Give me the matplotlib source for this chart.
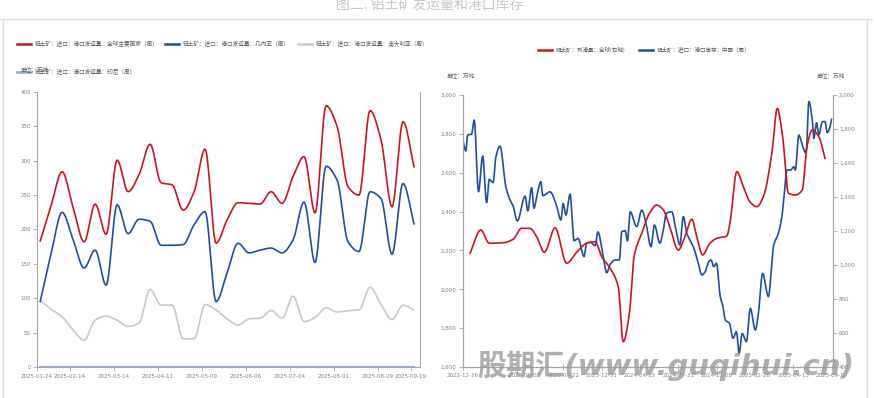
import numpy as np
import pandas as pd
import matplotlib
matplotlib.use('Agg')
import matplotlib.pyplot as plt
import matplotlib.dates as mdates
from matplotlib.lines import Line2D
from matplotlib.ticker import FuncFormatter
from matplotlib import font_manager

plt.rcParams['font.family'] = ['Noto Sans CJK SC', 'DejaVu Sans']

# ~~~~~ left panel: weekly port shipments (万吨) ~~~~~
weeks = pd.date_range('2025-01-26', periods=35, freq='7D')
global_ship = [183, 235, 284, 232, 182, 237, 193, 301, 255, 280, 324, 268, 265, 228, 255, 317, 180,
               214, 239, 238, 237, 255, 238, 277, 306, 224, 380, 350, 262, 250, 373, 330, 233, 357, 291]
guinea_ship = [95, 165, 225, 185, 144, 170, 119, 236, 194, 215, 212, 177, 177, 178, 207, 226, 95,
               137, 180, 166, 170, 173, 166, 185, 240, 152, 292, 272, 182, 168, 255, 245, 164, 267, 208]
australia_ship = [97, 84, 73, 54, 39, 68, 74, 68, 59, 64, 113, 90, 90, 41, 41, 91, 83,
                  70, 61, 70, 71, 82, 71, 103, 66, 72, 86, 80, 82, 83, 116, 91, 69, 90, 83]
indonesia_ship = [0] * 35
left_ticks = ['2025-01-24', '2025-02-14', '2025-03-14', '2025-04-11', '2025-05-09',
              '2025-06-06', '2025-07-04', '2025-08-01', '2025-08-29', '2025-09-19']

# ~~~~~ right panel: China port stock (left axis) and global arrivals (right axis) ~~~~~
stock_x = [0.0, 0.8, 1.3, 2.3, 3.0, 4.1, 5.2, 6.2, 6.9, 7.9, 8.6, 9.7, 11.2, 12.3, 13.1, 14.2,
           16.2, 16.9, 17.9, 18.5, 19.4, 20.3, 20.8, 22.7, 24.4, 25.5, 26.1, 26.8, 27.9, 28.6,
           28.9, 30.0, 31.5, 32.2, 33.2, 34.4, 35.1, 36.5, 37.4, 38.3, 39.6, 40.7, 41.3, 42.2,
           42.8, 43.5, 45.2, 46.5, 47.6, 48.9, 49.8, 51.2, 52.1, 52.9, 54.3, 55.5, 56.4, 57.3,
           58.2, 59.0, 59.9, 61.2, 62.1, 63.0, 63.9, 64.5, 65.2, 65.9, 66.9, 67.6, 68.2, 69.3,
           70.2, 71.1, 71.8, 72.6, 73.7, 74.7, 76.0, 76.8, 77.9, 79.4, 80.3, 80.7, 82.0, 82.9,
           83.5, 84.2, 85.2, 86.0, 86.4, 87.3, 88.2, 89.2, 89.9, 90.8, 91.2, 91.9, 92.5, 93.4,
           94.1, 94.7, 95.3, 95.8]
stock_cn = [2772, 2712, 2794, 2798, 2871, 2502, 2686, 2446, 2566, 2549, 2679, 2737, 2528, 2459,
            2428, 2351, 2480, 2403, 2523, 2417, 2494, 2554, 2482, 2502, 2428, 2357, 2442, 2382,
            2490, 2305, 2250, 2262, 2168, 2237, 2242, 2224, 2296, 2168, 2085, 2128, 2151, 2151,
            2296, 2301, 2249, 2399, 2322, 2408, 2340, 2219, 2331, 2237, 2305, 2391, 2399, 2296,
            2228, 2374, 2288, 2254, 2219, 2134, 2074, 2091, 2142, 2151, 2116, 2134, 1962, 1910,
            1842, 1825, 1748, 1782, 1670, 1773, 1730, 1902, 1790, 1876, 2082, 1962, 2134, 2219,
            2288, 2374, 2485, 2614, 2614, 2631, 2614, 2794, 2742, 2700, 2966, 2871, 2777, 2857,
            2794, 2863, 2863, 2806, 2829, 2875]
arrive_x = [1.9, 4.7, 6.9, 10.5, 13.1, 15.3, 17.5, 19.2, 21.2, 24.0, 27.0, 29.6, 32.2, 34.4,
            36.1, 38.3, 40.4, 41.7, 43.3, 44.5, 46.5, 48.5, 50.4, 52.1, 53.8, 56.0, 57.7, 59.5,
            60.8, 62.3, 64.2, 66.0, 68.6, 69.4, 71.2, 72.9, 74.6, 76.4, 78.1, 80.3, 81.7, 83.1,
            84.6, 86.4, 88.2, 89.4, 90.8, 92.5, 94.1]
arrive_glb = [1069, 1206, 1128, 1131, 1151, 1216, 1216, 1166, 1075, 1219, 1010, 1075, 1128, 1137,
              1049, 980, 872, 549, 716, 1049, 1186, 1304, 1353, 1324, 1225, 1088, 1166, 1269,
              1166, 1059, 1128, 1157, 1171, 1245, 1549, 1461, 1372, 1343, 1402, 1657, 1921, 1755,
              1422, 1412, 1441, 1696, 1794, 1755, 1627]
right_tick_pos = [0, 16.2, 26.1, 36.1, 46, 56, 66, 75.9, 85.9, 95.8]
right_ticks = ['2022-12-16', '2023-06-02', '2023-09-22', '2023-12-31', '2024-04-12',
               '2024-07-31', '2024-11-08', '2025-02-28', '2025-04-13', '2025-09-19']

RED = '#c9151e'
BLUE = '#1f4e9b'
GREY = '#c8c8c8'
LBLUE = '#8eaadb'
TXT = '#7f7f7f'

# narrow face for the tick numbers if there is one
names = {f.name for f in font_manager.fontManager.ttflist}
if 'Liberation Sans Narrow' in names:
    TICK_FONT, TICK_FS = 'Liberation Sans Narrow', 5.2
else:
    TICK_FONT, TICK_FS = 'DejaVu Sans', 4.0


def smooth(x, y, n=12):
    # monotone cubic (pchip) so the curves look like the smoothed lines of the original
    x = np.asarray(x, float)
    y = np.asarray(y, float)
    h = np.diff(x)
    d = np.diff(y) / h
    m = np.zeros_like(y)
    m[0], m[-1] = d[0], d[-1]
    for k in range(1, len(x) - 1):
        if d[k - 1] * d[k] > 0:
            w1 = 2 * h[k] + h[k - 1]
            w2 = h[k] + 2 * h[k - 1]
            m[k] = (w1 + w2) / (w1 / d[k - 1] + w2 / d[k])
    xs, ys = [], []
    for k in range(len(x) - 1):
        t = np.linspace(0, 1, n, endpoint=False)
        h00 = 2 * t**3 - 3 * t**2 + 1
        h10 = t**3 - 2 * t**2 + t
        h01 = -2 * t**3 + 3 * t**2
        h11 = t**3 - t**2
        xs.append(x[k] + t * h[k])
        ys.append(h00 * y[k] + h10 * h[k] * m[k] + h01 * y[k + 1] + h11 * h[k] * m[k + 1])
    xs.append([x[-1]])
    ys.append([y[-1]])
    return np.concatenate(xs), np.concatenate(ys)


def style_axis(ax):
    for s in ['left', 'right', 'bottom']:
        ax.spines[s].set_color('#a6a6a6')
        ax.spines[s].set_linewidth(0.8)
    ax.spines['top'].set_visible(False)
    ax.tick_params(colors='#a6a6a6', labelcolor=TXT, labelsize=TICK_FS, length=3, width=0.6)
    for lab in ax.get_xticklabels() + ax.get_yticklabels():
        lab.set_family(TICK_FONT)


fig = plt.figure(figsize=(8.74, 3.98), dpi=100)

# frame lines and title
fig.add_artist(Line2D([0, 0.998], [1 - 19 / 398] * 2, color='#dcdcdc', lw=0.9))
fig.add_artist(Line2D([3 / 874] * 2, [0, 1 - 19 / 398], color='#dcdcdc', lw=0.9))
fig.add_artist(Line2D([867 / 874] * 2, [0, 1 - 19 / 398], color='#dcdcdc', lw=0.9))
fig.text(430 / 874, 1 - 5 / 398, '图二. 铝土矿发运量和港口库存', ha='center', va='center',
         fontsize=10, color='#c8c8c8')

# ~~~~~ left panel ~~~~~
ax1 = fig.add_axes([37 / 874, 31 / 398, 383 / 874, 275 / 398])
xd = mdates.date2num(weeks.to_pydatetime())
for vals, c in [(australia_ship, GREY), (guinea_ship, BLUE), (global_ship, RED)]:
    sx, sy = smooth(xd, vals)
    ax1.plot(sx, sy, color=c, lw=1.2, solid_capstyle='round')
ax1.plot(xd, indonesia_ship, color=LBLUE, lw=1.5)
t0 = mdates.date2num(pd.Timestamp('2025-01-24'))
ax1.set_xlim(t0, t0 + 243.8)
ax1.set_ylim(0, 400)
ax1.set_yticks(range(0, 401, 50))
ax1.set_xticks(mdates.date2num(pd.to_datetime(left_ticks).to_pydatetime()))
ax1.set_xticklabels(left_ticks)
style_axis(ax1)
ax1.tick_params(axis='x', pad=2)
ax1.tick_params(axis='y', pad=1.5)


# left legend, drawn by hand to keep the original order
def legend_item(x, y, color, label, fs=4.1, lw=1.8):
    fig.add_artist(Line2D([x / 874, (x + 14) / 874], [1 - y / 398] * 2, color=color, lw=lw))
    fig.text((x + 18) / 874, 1 - y / 398, label, fontsize=fs, color='#595959', va='center')


legend_item(17, 44, RED, '铝土矿：进口：港口发运量：全球主要国家（周）')
legend_item(165, 44, BLUE, '铝土矿：进口：港口发运量：几内亚（周）')
legend_item(298, 44, GREY, '铝土矿：进口：港口发运量：澳大利亚（周）')
legend_item(17, 72, LBLUE, '铝土矿：进口：港口发运量：印尼（周）')
fig.text(21 / 874, 1 - 69 / 398, '单位：万吨', fontsize=4.1, color='#595959', va='center')

# ~~~~~ right panel ~~~~~
ax2 = fig.add_axes([462.7 / 874, 31 / 398, 370 / 874, 272 / 398])
ax3 = ax2.twinx()
sx, sy = smooth(stock_x, stock_cn, n=6)
ax2.plot(sx, sy, color=BLUE, lw=1.2)
sx, sy = smooth(arrive_x, arrive_glb)
ax3.plot(sx, sy, color=RED, lw=1.2)
ax2.set_xlim(0, 96.1)
ax2.set_ylim(1600, 3000)
ax3.set_ylim(400, 2000)
ax2.set_yticks(range(1600, 3001, 200))
ax3.set_yticks(range(400, 2001, 200))
fmt = FuncFormatter(lambda v, p: f'{int(v):,}')
ax2.yaxis.set_major_formatter(fmt)
ax3.yaxis.set_major_formatter(fmt)
ax2.set_xticks(right_tick_pos)
ax2.set_xticklabels(right_ticks)
style_axis(ax2)
style_axis(ax3)
ax2.spines['bottom'].set_color('#7f7f7f')
ax2.tick_params(axis='x', direction='inout', length=4, pad=2)
ax2.tick_params(axis='y', pad=1.5)
ax3.tick_params(axis='y', pad=1.5)

legend_item(538, 50, RED, '铝土矿：到港量：全球(右轴)', fs=4.0)
legend_item(639, 50, BLUE, '铝土矿：进口：港口库存：中国（周）', fs=4.0)
fig.text(447 / 874, 1 - 75 / 398, '单位：万吨', fontsize=4.1, color='#595959', va='center')
fig.text(817 / 874, 1 - 75 / 398, '单位：万吨', fontsize=4.1, color='#595959', va='center')

# watermark
fig.text(666 / 874, 1 - 366 / 398, '股期汇(www.guqihui.cn)', ha='center', va='center',
         fontsize=21, fontweight='bold', style='oblique', color='#9a9a9a', alpha=0.8,
         family=['DejaVu Sans', 'Noto Sans CJK SC'], zorder=10)

fig.savefig('out.png', dpi=100)
